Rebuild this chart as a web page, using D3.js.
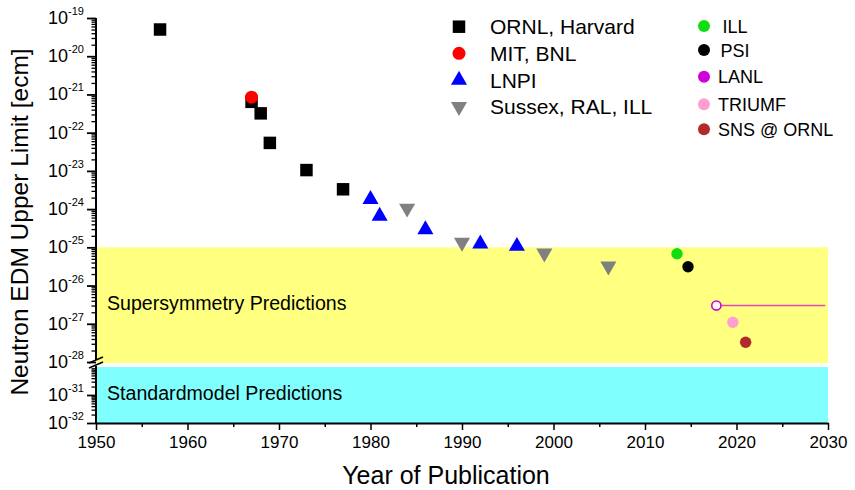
<!DOCTYPE html>
<html><head><meta charset="utf-8">
<script src="https://cdn.jsdelivr.net/npm/d3@7"></script>
<style>
html,body{margin:0;padding:0;background:#fff;}
text{font-family:"Liberation Sans",Arial,sans-serif;}
</style></head>
<body><div id="chart"></div>
<script>
// ---- data ----
const ornlYears = [1957, 1967, 1968, 1969, 1973, 1977];
const ornlVals  = [5e-20, 6.4e-22, 3.2e-22, 5.4e-23, 1.05e-23, 3.3e-24];
const mitYears  = [1967];
const mitVals   = [8.5e-22];
const lnpiYears = [1980, 1981, 1986, 1992, 1996];
const lnpiVals  = [1.8e-24, 6.6e-25, 2.9e-25, 1.23e-25, 1.07e-25];
const sussexYears = [1984, 1990, 1999, 2006];
const sussexVals  = [1.05e-24, 1.35e-25, 7e-26, 3.2e-26];
const futureNames = ["ILL", "PSI", "LANL", "TRIUMF", "SNS @ ORNL"];
const futureYears = [2013.5, 2014.7, 2017.8, 2019.6, 2021.0];
const futureVals  = [6.8e-26, 3.1e-26, 3e-27, 1.1e-27, 3.3e-28];
const futureColors = ["#11dd11", "#000000", "#d000d8", "#ff9fcf", "#b22a2a"];
const lanlLineEnd = 2029.7;
const xTicks = [1950, 1960, 1970, 1980, 1990, 2000, 2010, 2020, 2030];
const upperDecades = [-19, -20, -21, -22, -23, -24, -25, -26, -27, -28];
const lowerDecades = [-31, -32];
const susyBand = [1e-28, 1e-25];
const smBand = [1e-32, 1e-30];
const legend1Names = ["ORNL, Harvard", "MIT, BNL", "LNPI", "Sussex, RAL, ILL"];

// ---- layout ----
const W = 855, H = 490;
const svg = d3.select("#chart").append("svg").attr("width", W).attr("height", H);
const x = d3.scaleLinear().domain([1950, 2030]).range([96, 828]);
const yU = d3.scaleLog().domain([1e-28, 1e-19]).range([362, 18]);
const yL = d3.scaleLog().domain([1e-32, 1e-30]).range([423, 367]);

// bands
svg.append("rect").attr("x", x(1950)).attr("width", x(2030) - x(1950))
  .attr("y", yU(susyBand[1])).attr("height", yU(susyBand[0]) - yU(susyBand[1]) + 1)
  .attr("fill", "#ffff80");
svg.append("rect").attr("x", x(1950)).attr("width", x(2030) - x(1950))
  .attr("y", yL(smBand[1])).attr("height", yL(smBand[0]) - yL(smBand[1]))
  .attr("fill", "#80ffff");

svg.append("text").attr("x", 107).attr("y", 310).attr("font-size", 19.6).text("Supersymmetry Predictions");
svg.append("text").attr("x", 107).attr("y", 400).attr("font-size", 19.6).text("Standardmodel Predictions");

// x axis
const xMinor = d3.range(1955, 2030, 10);
svg.append("g").attr("transform", "translate(0,423)")
  .call(d3.axisBottom(x).tickValues(xMinor).tickSize(4).tickFormat(""))
  .call(g => g.select(".domain").remove())
  .call(g => g.selectAll("line").attr("stroke-width", 1.5));
const gx = svg.append("g").attr("transform", "translate(0,423)")
  .call(d3.axisBottom(x).tickValues(xTicks).tickSize(7).tickSizeOuter(0).tickPadding(6).tickFormat(d3.format("d")));
gx.select(".domain").attr("stroke-width", 2);
gx.selectAll("line").attr("stroke-width", 1.5);
gx.selectAll("text").attr("font-size", 17).attr("font-family", "Liberation Sans, Arial, sans-serif");

// y axis helper
function minorVals(decades) {
  const out = [];
  decades.forEach(e => { for (let m = 2; m <= 9; m++) out.push(m * Math.pow(10, e)); });
  return out;
}
function drawYAxis(scale, majors, minorDec, y0, y1) {
  const gm = svg.append("g").attr("transform", "translate(96,0)")
    .call(d3.axisLeft(scale).tickValues(minorVals(minorDec)).tickSize(4.5).tickFormat(""));
  gm.select(".domain").remove();
  gm.selectAll("line").attr("stroke-width", 1.3);
  const g = svg.append("g").attr("transform", "translate(96,0)")
    .call(d3.axisLeft(scale).tickValues(majors.map(e => Math.pow(10, e))).tickSize(9).tickFormat(""));
  g.select(".domain").remove();
  g.selectAll("line").attr("stroke-width", 1.8);
  svg.append("line").attr("x1", 96).attr("x2", 96).attr("y1", y0).attr("y2", y1)
    .attr("stroke", "#000").attr("stroke-width", 2);
  majors.forEach(e => {
    const t = svg.append("text").attr("x", 84).attr("y", scale(Math.pow(10, e)) + 6)
      .attr("text-anchor", "end").attr("font-size", 18);
    t.append("tspan").text("10");
    t.append("tspan").attr("font-size", 11).attr("dy", -9).text(String(e));
  });
}
drawYAxis(yU, upperDecades, d3.range(-28, -19), yU(1e-19), 360);
drawYAxis(yL, lowerDecades, [-32, -31], 366, 424);

// break marks
svg.append("line").attr("x1", 89).attr("y1", 363).attr("x2", 103).attr("y2", 357).attr("stroke", "#000").attr("stroke-width", 1.5);
svg.append("line").attr("x1", 89).attr("y1", 368).attr("x2", 103).attr("y2", 362).attr("stroke", "#000").attr("stroke-width", 1.5);

// axis titles
svg.append("text").attr("transform", "translate(28,222) rotate(-90)").attr("text-anchor", "middle")
  .attr("font-size", 24.5).text("Neutron EDM Upper Limit [ecm]");
svg.append("text").attr("x", 446).attr("y", 484).attr("text-anchor", "middle")
  .attr("font-size", 25).text("Year of Publication");

// data
const sq = d3.symbol().type(d3.symbolSquare).size(156);
const tri = d3.symbol().type(d3.symbolTriangle).size(112);
svg.append("g").selectAll("path").data(ornlYears).join("path")
  .attr("d", sq).attr("transform", (d, i) => `translate(${x(d)},${yU(ornlVals[i])})`).attr("fill", "#000");
svg.append("g").selectAll("circle").data(mitYears).join("circle")
  .attr("cx", d => x(d)).attr("cy", (d, i) => yU(mitVals[i])).attr("r", 6.5).attr("fill", "#ff0000");
svg.append("g").selectAll("path").data(lnpiYears).join("path")
  .attr("d", tri).attr("transform", (d, i) => `translate(${x(d)},${yU(lnpiVals[i])})`).attr("fill", "#0000ff");
svg.append("g").selectAll("path").data(sussexYears).join("path")
  .attr("d", tri).attr("transform", (d, i) => `translate(${x(d)},${yU(sussexVals[i])}) rotate(180)`).attr("fill", "#808080");

// LANL line
svg.append("line").attr("x1", x(futureYears[2])).attr("x2", x(lanlLineEnd))
  .attr("y1", yU(futureVals[2])).attr("y2", yU(futureVals[2]))
  .attr("stroke", "#e048b8").attr("stroke-width", 1.5);
svg.append("g").selectAll("circle").data(futureYears).join("circle")
  .attr("cx", d => x(d)).attr("cy", (d, i) => yU(futureVals[i])).attr("r", (d, i) => i === 2 ? 4.6 : 5.7)
  .attr("fill", (d, i) => i === 2 ? "#ffffff" : futureColors[i])
  .attr("stroke", (d, i) => i === 2 ? futureColors[i] : "none")
  .attr("stroke-width", 1.6);

// legend 1
const l1y = [26.7, 53.3, 80, 106.7];
const lg1 = svg.append("g");
lg1.append("path").attr("d", sq).attr("transform", `translate(459,${l1y[0]})`).attr("fill", "#000");
lg1.append("circle").attr("cx", 459).attr("cy", l1y[1]).attr("r", 6.5).attr("fill", "#ff0000");
lg1.append("path").attr("d", tri).attr("transform", `translate(459,${l1y[2]})`).attr("fill", "#0000ff");
lg1.append("path").attr("d", tri).attr("transform", `translate(459,${l1y[3]}) rotate(180)`).attr("fill", "#808080");
legend1Names.forEach((n, i) => {
  lg1.append("text").attr("x", 490).attr("y", l1y[i] + 7.5).attr("font-size", 21).text(n);
});

// legend 2
const l2y = [26, 50, 76.7, 104.3, 129.3];
const l2x = [722.5, 720.5, 718, 718, 718];
const lg2 = svg.append("g");
futureNames.forEach((n, i) => {
  lg2.append("circle").attr("cx", 704).attr("cy", l2y[i]).attr("r", 6).attr("fill", futureColors[i]);
  lg2.append("text").attr("x", l2x[i]).attr("y", l2y[i] + 6.5).attr("font-size", 18)
    .attr("font-family", "DejaVu Sans, sans-serif").text(n);
});
</script></body></html>
